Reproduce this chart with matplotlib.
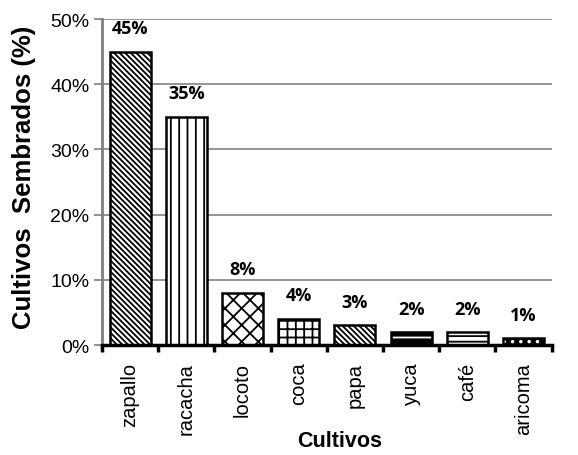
import matplotlib.pyplot as plt
from matplotlib.ticker import FuncFormatter
import numpy as np


# Cultivos sembrados (%)
#--------------------------------------------------------------------------------

cultivos = ["zapallo", "racacha", "locoto", "coca", "papa", "yuca", "café", "aricoma"]

porcentajes = [45, 35, 8, 4, 3, 2, 2, 1]

etiquetas = ["45%", "35%", "8%", "4%", "3%", "2%", "2%", "1%"]

# hatch, face colour, hatch colour for each bar
estilos = [
    ("\\" * 6, "white", "black"),
    ("||", "white", "black"),
    ("xx", "white", "black"),
    ("++", "white", "black"),
    ("\\" * 6, "white", "black"),
    ("--", "black", "white"),
    ("---", "white", "black"),
    ("..", "black", "white"),
]


plt.rcParams["font.family"] = ["Liberation Sans", "DejaVu Sans"]
plt.rcParams["hatch.linewidth"] = 1.3

fig = plt.figure(
    figsize=(5.78, 4.56),
    dpi=100
)

ax = fig.add_axes([0.1765, 0.2412, 0.778, 0.7148])

x = np.arange(len(cultivos))

# ----------------------------------------
# Bars
# ----------------------------------------

for xi, valor, (hatch, face, hcolor) in zip(x, porcentajes, estilos):

    ax.bar(
        xi,
        valor,
        width=0.73,
        color=face,
        edgecolor=hcolor,
        hatch=hatch,
        linewidth=0,
        zorder=3
    )

    ax.bar(
        xi,
        valor,
        width=0.73,
        fill=False,
        edgecolor="black",
        linewidth=1.8,
        zorder=4
    )

# ----------------------------------------
# Data labels
# ----------------------------------------

for xi, valor, texto in zip(x, porcentajes, etiquetas):

    ax.text(
        xi,
        valor + 3.6,
        texto,
        ha="center",
        va="center",
        fontsize=13,
        fontweight="bold",
        family=["Open Sans", "DejaVu Sans"]
    )

# ----------------------------------------
# Axes
# ----------------------------------------

ax.set_xlim(-0.5, len(cultivos) - 0.5)
ax.set_ylim(0, 50)

ax.set_yticks(np.arange(0, 51, 10))
ax.yaxis.set_major_formatter(FuncFormatter(lambda v, p: f"{v:.0f}%"))

ax.set_xticks(x)
ax.set_xticklabels(cultivos, rotation=90, fontsize=14.5)
ax.set_xticks(np.arange(-0.5, len(cultivos)), minor=True)

ax.tick_params(axis="x", which="major", length=0, pad=12)
ax.tick_params(axis="x", which="minor", length=5, width=2.5, color="black", direction="out")
ax.tick_params(axis="y", labelsize=14, length=6, width=1.2, color="#7f7f7f", direction="out", pad=3)

ax.grid(
    axis="y",
    color="#8c8c8c",
    linewidth=1.3,
    zorder=0
)
ax.set_axisbelow(True)

ax.spines["top"].set_visible(False)
ax.spines["right"].set_visible(False)
ax.spines["left"].set_color("#7f7f7f")
ax.spines["left"].set_linewidth(2)
ax.spines["bottom"].set_color("black")
ax.spines["bottom"].set_linewidth(2.5)
ax.spines["bottom"].set_zorder(5)

fig.text(
    0.588,
    1 - 442 / 456,
    "Cultivos",
    ha="center",
    va="center",
    fontsize=15.5,
    fontweight="bold"
)

fig.text(
    24 / 578,
    1 - 177 / 456,
    "Cultivos  Sembrados (%)",
    ha="center",
    va="center",
    rotation=90,
    fontsize=18.5,
    fontweight="bold"
)

fig.savefig(
    "out.png",
    dpi=100
)

plt.close()
